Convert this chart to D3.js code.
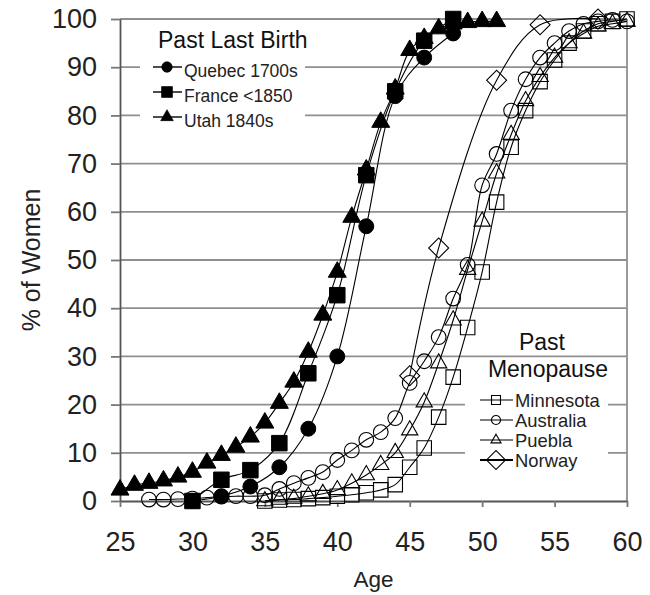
<!DOCTYPE html>
<html>
<head>
<meta charset="utf-8">
<script src="https://cdn.jsdelivr.net/npm/d3@7/dist/d3.min.js"></script>
<style>
  body { margin: 0; background: #fff; }
  svg { font-family: "Liberation Sans", Arial, sans-serif; }
</style>
</head>
<body>
<div id="chart"></div>
<script>
// ages and % of women
var quebecAge = [30, 32, 34, 36, 38, 40, 42, 44, 46, 48];
var quebecPct = [0, 1, 3, 7, 15, 30, 57, 84, 92, 97];

var franceAge = [30, 32, 34, 36, 38, 40, 42, 44, 46, 48];
var francePct = [0, 4.4, 6.4, 12, 26.5, 42.7, 67.6, 85, 95.5, 100];

var utahAge = [25, 26, 27, 28, 29, 30, 31, 32, 33, 34, 35, 36, 37, 38, 39, 40, 41, 42, 43, 44, 45, 46, 47, 48, 49, 50, 51];
var utahPct = [2.3, 3.3, 3.7, 4.2, 5, 6, 7.9, 9.5, 11.2, 13.3, 16.2, 20.3, 24.7, 30.9, 38.6, 47.5, 58.9, 68.7, 78.6, 85.5, 93.5, 96, 98, 99, 99.3, 99.5, 99.5];

var minnesotaAge = [35, 36, 37, 38, 39, 40, 41, 42, 43, 44, 45, 46, 47, 48, 49, 50, 51, 52, 53, 54, 55, 56, 57, 58, 59, 60];
var minnesotaPct = [0, 0.2, 0.3, 0.5, 0.7, 1, 1.3, 1.7, 2.3, 3.4, 7, 11, 17.4, 25.7, 36, 47.5, 62, 73.4, 81, 87, 91.5, 95, 97.5, 99, 99.5, 100];

var australiaAge = [27, 28, 29, 30, 31, 32, 33, 34, 35, 36, 37, 38, 39, 40, 41, 42, 43, 44, 45, 46, 47, 48, 49, 50, 51, 52, 53, 54, 55, 56, 57, 58, 59, 60];
var australiaPct = [0.3, 0.3, 0.4, 0.5, 0.7, 0.9, 1, 1, 1.2, 2.5, 3.7, 4.8, 6, 8.5, 10.5, 12.7, 14.3, 17.2, 24.5, 29, 34, 42, 49, 65.5, 72, 81, 87.5, 92, 95, 97.5, 99, 99.5, 99.8, 99.5];

var pueblaAge = [35, 36, 37, 38, 39, 40, 41, 42, 43, 44, 45, 46, 47, 48, 49, 50, 51, 52, 53, 54, 55, 56, 57, 58, 59, 60];
var pueblaPct = [0, 0.3, 0.5, 1, 1.5, 2.3, 3.7, 5.4, 7.5, 10, 14.7, 20.5, 28.6, 37.5, 48, 58, 68, 76, 83, 88, 92, 95, 97, 98.5, 99, 99.5];

var norwayAge = [45, 47, 51, 54, 58];
var norwayPct = [26, 52.5, 87.3, 98.8, 100];

var xTicks = [25, 30, 35, 40, 45, 50, 55, 60];
var yTicks = [0, 10, 20, 30, 40, 50, 60, 70, 80, 90, 100];

var width = 650, height = 595;

var svg = d3.select("#chart")
            .append("svg")
            .attr("width", width)
            .attr("height", height);

var x = d3.scaleLinear().domain([25, 60]).range([120, 627]);
var y = d3.scaleLinear().domain([0, 100]).range([501, 19]);

// gridlines
svg.append("g")
   .selectAll("line")
   .data(yTicks.filter(function (d) { return d > 0; }))
   .enter().append("line")
   .attr("x1", x(25)).attr("x2", x(60))
   .attr("y1", function (d) { return y(d); })
   .attr("y2", function (d) { return y(d); })
   .attr("stroke", "#8f8f8f")
   .attr("stroke-width", 1.8);

// right border
svg.append("line")
   .attr("x1", x(60)).attr("x2", x(60))
   .attr("y1", y(0)).attr("y2", y(100))
   .attr("stroke", "#8f8f8f")
   .attr("stroke-width", 1.8);

// legend backgrounds hide the gridlines
svg.append("rect").attr("x", 140).attr("y", 28).attr("width", 165).attr("height", 105).attr("fill", "#fff");
svg.append("rect").attr("x", 465).attr("y", 385).attr("width", 143).attr("height", 88).attr("fill", "#fff");

// axes
var xAxis = svg.append("g")
   .attr("transform", "translate(0," + y(0) + ")")
   .call(d3.axisBottom(x).tickValues(xTicks).tickSize(6).tickPadding(25).tickSizeOuter(0));
var yAxis = svg.append("g")
   .attr("transform", "translate(" + x(25) + ",0)")
   .call(d3.axisLeft(y).tickValues(yTicks).tickSize(9).tickPadding(14).tickSizeOuter(0));

[xAxis, yAxis].forEach(function (g) {
  g.select(".domain").attr("stroke", "#555").attr("stroke-width", 1.8);
  g.selectAll(".tick line").attr("stroke", "#777").attr("stroke-width", 1.8);
  g.selectAll(".tick text")
   .attr("font-size", 27)
   .attr("font-family", "Liberation Sans, Arial, sans-serif")
   .attr("fill", "#222");
});

svg.append("text")
   .attr("x", x(42.5))
   .attr("y", 587)
   .attr("text-anchor", "middle")
   .attr("font-size", 22.5)
   .attr("fill", "#222")
   .text("Age");

svg.append("text")
   .attr("transform", "translate(40," + y(50) + ") rotate(-90)")
   .attr("text-anchor", "middle")
   .attr("font-size", 25)
   .attr("fill", "#222")
   .text("% of Women");

// series
var series = [
  { name: "Quebec 1700s", age: quebecAge, pct: quebecPct, shape: "circle", filled: true },
  { name: "France <1850", age: franceAge, pct: francePct, shape: "square", filled: true },
  { name: "Utah 1840s", age: utahAge, pct: utahPct, shape: "triangle", filled: true },
  { name: "Minnesota", age: minnesotaAge, pct: minnesotaPct, shape: "square", filled: false },
  { name: "Australia", age: australiaAge, pct: australiaPct, shape: "circle", filled: false },
  { name: "Puebla", age: pueblaAge, pct: pueblaPct, shape: "triangle", filled: false },
  { name: "Norway", age: norwayAge, pct: norwayPct, shape: "diamond", filled: false }
];

function symbolPath(shape, filled) {
  if (shape === "circle") return d3.symbol(d3.symbolCircle, filled ? 175 : 170)();
  if (shape === "square") return d3.symbol(d3.symbolSquare, filled ? 240 : 210)();
  if (shape === "triangle") return d3.symbol(d3.symbolTriangle, filled ? 140 : 115)();
  return d3.symbol(d3.symbolSquare, 200)();
}

function drawMarker(g, s, cx, cy, scale) {
  g.append("path")
   .attr("d", symbolPath(s.shape, s.filled))
   .attr("transform", "translate(" + cx + "," + cy + ")" +
         (s.shape === "diamond" ? " rotate(45)" : "") +
         (scale ? " scale(" + scale + ")" : ""))
   .attr("fill", s.filled ? "#000" : "none")
   .attr("stroke", "#000")
   .attr("stroke-width", s.filled ? 1 : 1.1 / (scale || 1));
}

var line = d3.line()
   .x(function (d) { return x(d[0]); })
   .y(function (d) { return y(d[1]); })
   .curve(d3.curveCatmullRom);

series.forEach(function (s) {
  var pts = s.age.map(function (a, i) { return [a, s.pct[i]]; });
  svg.append("path")
     .datum(pts)
     .attr("d", line)
     .attr("fill", "none")
     .attr("stroke", "#000")
     .attr("stroke-width", 1.1);
  var g = svg.append("g");
  pts.forEach(function (p) {
    drawMarker(g, s, x(p[0]), y(p[1]));
  });
});

// legend: past last birth
svg.append("text")
   .attr("x", 158).attr("y", 48)
   .attr("font-size", 23)
   .attr("fill", "#111")
   .text("Past Last Birth");

series.slice(0, 3).forEach(function (s, i) {
  var ly = 67 + i * 25;
  svg.append("line")
     .attr("x1", 153).attr("x2", 182)
     .attr("y1", ly).attr("y2", ly)
     .attr("stroke", "#000").attr("stroke-width", 1.4);
  drawMarker(svg, s, 167, ly, 0.7);
  svg.append("text")
     .attr("x", 184).attr("y", ly + 10)
     .attr("font-size", 17.5)
     .attr("fill", "#222")
     .text(s.name);
});

// legend: past menopause
svg.append("text")
   .attr("x", 542).attr("y", 350)
   .attr("text-anchor", "middle")
   .attr("font-size", 23)
   .attr("fill", "#111")
   .text("Past");
svg.append("text")
   .attr("x", 548).attr("y", 377)
   .attr("text-anchor", "middle")
   .attr("font-size", 23)
   .attr("fill", "#111")
   .text("Menopause");

series.slice(3).forEach(function (s, i) {
  var ly = 400 + i * 20;
  svg.append("line")
     .attr("x1", 480).attr("x2", 513)
     .attr("y1", ly).attr("y2", ly)
     .attr("stroke", "#000").attr("stroke-width", s.shape === "diamond" ? 2 : 1.2);
  drawMarker(svg, s, 496, ly, s.shape === "diamond" ? 0.95 : 0.62);
  svg.append("text")
     .attr("x", 515).attr("y", ly + 6.5)
     .attr("font-size", 18.4)
     .attr("fill", "#222")
     .text(s.name);
});
</script>
</body>
</html>
